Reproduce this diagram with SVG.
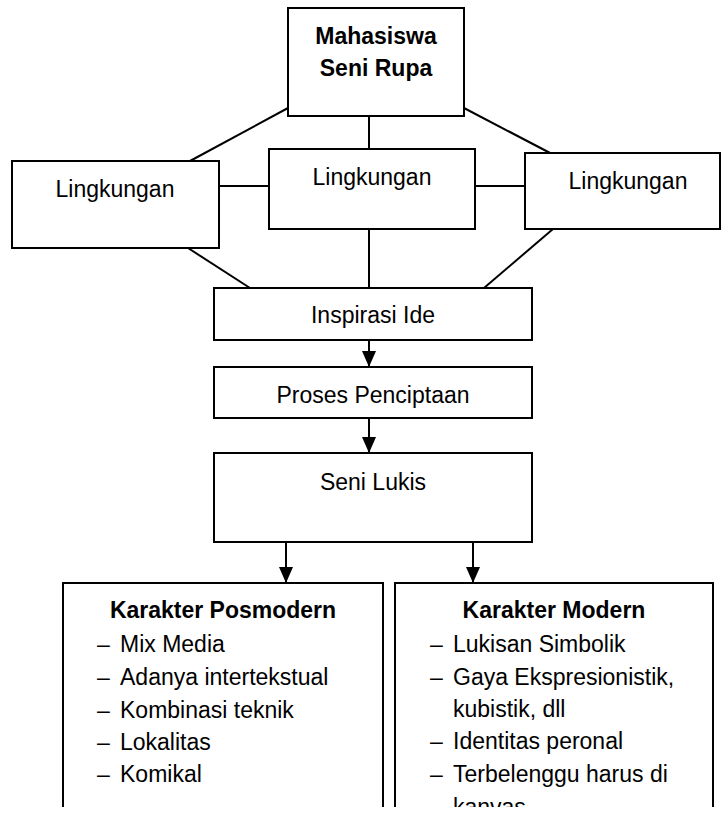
<svg xmlns="http://www.w3.org/2000/svg" width="721" height="816" viewBox="0 0 721 816">
<style>
  .box{fill:#fff;stroke:#000;stroke-width:2}
  .open{fill:none;stroke:#000;stroke-width:2}
  .ln{fill:none;stroke:#000;stroke-width:2}
  text{font-family:"Liberation Sans",Arial,sans-serif;font-size:23px;fill:#000}
  .c{text-anchor:middle}
  .b{font-weight:bold}
</style>
<defs>
  <marker id="arr" markerUnits="userSpaceOnUse" markerWidth="16" markerHeight="14" refX="16" refY="7" orient="auto">
    <path d="M0,0 L16,7 L0,14 Z" fill="#000"/>
  </marker>
  <clipPath id="clipBottom"><rect x="0" y="0" width="721" height="807"/></clipPath>
</defs>
<rect width="721" height="816" fill="#fff"/>

<g id="connectors">
  <line class="ln" x1="288" y1="108" x2="190" y2="161"/>
  <line class="ln" x1="369" y1="116" x2="369" y2="149"/>
  <line class="ln" x1="464" y1="108" x2="552" y2="154"/>
  <line class="ln" x1="219" y1="186" x2="269" y2="186"/>
  <line class="ln" x1="475" y1="186" x2="525" y2="186"/>
  <line class="ln" x1="188" y1="248" x2="250" y2="288"/>
  <line class="ln" x1="369" y1="229" x2="369" y2="288"/>
  <line class="ln" x1="553" y1="229" x2="484" y2="288"/>
  <line class="ln" x1="369" y1="340" x2="369" y2="367" marker-end="url(#arr)"/>
  <line class="ln" x1="369" y1="418" x2="369" y2="453" marker-end="url(#arr)"/>
  <line class="ln" x1="286" y1="542" x2="286" y2="583" marker-end="url(#arr)"/>
  <line class="ln" x1="473" y1="542" x2="473" y2="583" marker-end="url(#arr)"/>
</g>

<g id="mahasiswa">
  <rect class="box" x="288" y="8" width="176" height="108"/>
  <text class="c b" x="376" y="44">Mahasiswa</text>
  <text class="c b" x="376" y="76">Seni Rupa</text>
</g>

<g id="lingkungan-left">
  <rect class="box" x="12" y="161" width="207" height="87"/>
  <text class="c" x="115" y="197">Lingkungan</text>
</g>

<g id="lingkungan-center">
  <rect class="box" x="269" y="149" width="206" height="80"/>
  <text class="c" x="372" y="185">Lingkungan</text>
</g>

<g id="lingkungan-right">
  <rect class="box" x="525" y="153" width="195" height="76"/>
  <text class="c" x="628" y="189">Lingkungan</text>
</g>

<g id="inspirasi">
  <rect class="box" x="214" y="288" width="318" height="52"/>
  <text class="c" x="373" y="323">Inspirasi Ide</text>
</g>

<g id="proses">
  <rect class="box" x="214" y="367" width="318" height="51"/>
  <text class="c" x="373" y="403">Proses Penciptaan</text>
</g>

<g id="seni-lukis">
  <rect class="box" x="214" y="453" width="318" height="89"/>
  <text class="c" x="373" y="490">Seni Lukis</text>
</g>

<g id="posmodern" clip-path="url(#clipBottom)">
  <path class="open" d="M63,810 V583 H383 V810"/>
  <text class="c b" x="223" y="618">Karakter Posmodern</text>
  <text y="652"><tspan x="97">–</tspan><tspan x="120">Mix Media</tspan></text>
  <text y="685"><tspan x="97">–</tspan><tspan x="120">Adanya intertekstual</tspan></text>
  <text y="718"><tspan x="97">–</tspan><tspan x="120">Kombinasi teknik</tspan></text>
  <text y="750"><tspan x="97">–</tspan><tspan x="120">Lokalitas</tspan></text>
  <text y="782"><tspan x="97">–</tspan><tspan x="120">Komikal</tspan></text>
</g>

<g id="modern" clip-path="url(#clipBottom)">
  <path class="open" d="M395,810 V583 H713 V810"/>
  <text class="c b" x="554" y="618">Karakter Modern</text>
  <text y="652"><tspan x="430">–</tspan><tspan x="453">Lukisan Simbolik</tspan></text>
  <text y="685"><tspan x="430">–</tspan><tspan x="453">Gaya Ekspresionistik,</tspan></text>
  <text x="453" y="717">kubistik, dll</text>
  <text y="749"><tspan x="430">–</tspan><tspan x="453">Identitas peronal</tspan></text>
  <text y="782"><tspan x="430">–</tspan><tspan x="453">Terbelenggu harus di</tspan></text>
  <text x="453" y="815">kanvas</text>
</g>
</svg>
